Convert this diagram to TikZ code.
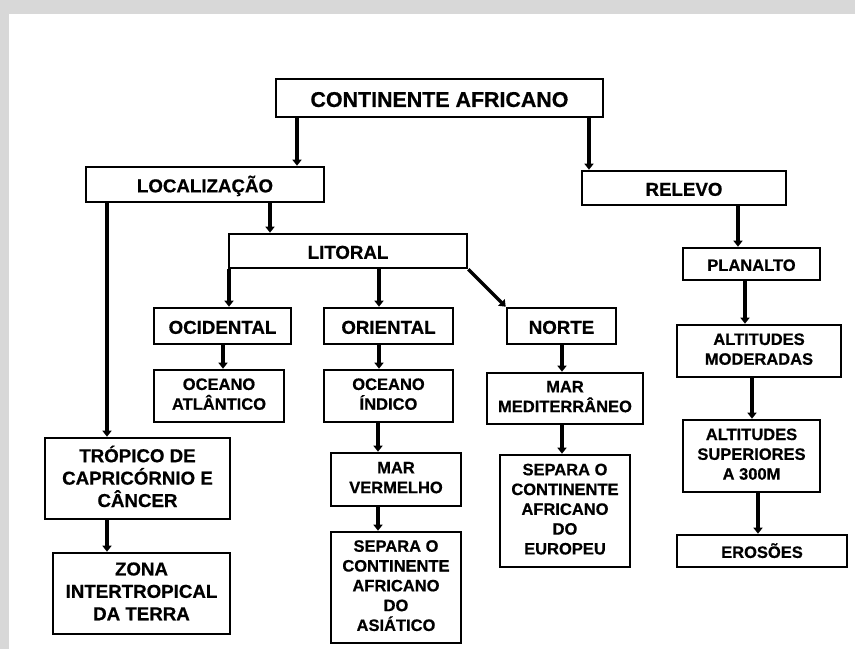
\documentclass[tikz,border=0pt]{standalone}
\usepackage{fontspec}
\setmainfont{Liberation Sans}[BoldFeatures={FakeBold=0.6}]
\usetikzlibrary{arrows.meta}
\definecolor{bgray}{RGB}{216,216,216}
\newcommand\vstrut{\rule[-0.234em]{0pt}{1.304em}}
\begin{document}
\begin{tikzpicture}[x=1pt,y=-1pt,
  box/.style={draw, line width=2.6pt, inner sep=0pt, align=center,
    execute at begin node=\vstrut, execute at end node=\vstrut},
  big/.style={box, font=\fontsize{21.4}{25.7}\selectfont\bfseries},
  mid/.style={box, font=\fontsize{18.7}{22.4}\selectfont\bfseries},
  sml/.style={box, font=\fontsize{16.5}{19.8}\selectfont\bfseries},
  wh/.style 2 args={minimum width=#1pt, minimum height=#2pt},
  arr/.style={line width=3.2pt, -{Triangle[length=6pt,width=9pt]}}]
\useasboundingbox (0,0) rectangle (855,649);
\fill[bgray] (0,0) rectangle (855,649);
\fill[white] (9,14) rectangle (855,649);

\node[big, wh={327}{38}] (cont) at (439.5,98) {CONTINENTE AFRICANO};
\node[mid, wh={238}{35}] (loc) at (205,184.5) {LOCALIZAÇÃO};
\node[mid, wh={204}{34}] (rel) at (684,188) {RELEVO};
\node[mid, wh={238}{34}] (lit) at (348,251) {LITORAL};
\node[mid, wh={137}{36}] (ocid) at (222.5,326) {OCIDENTAL};
\node[mid, wh={129}{36}] (orie) at (388.5,326) {ORIENTAL};
\node[mid, wh={109}{36}] (norte) at (561.5,326) {NORTE};
\node[sml, wh={130}{52}] (atl) at (219,396) {OCEANO\\ATLÂNTICO};
\node[sml, wh={129}{52}] (ind) at (388.5,396) {OCEANO\\ÍNDICO};
\node[sml, wh={130}{53}] (marv) at (396,479.5) {MAR\\VERMELHO};
\node[sml, wh={130}{111}] (sepa) at (396,587.5) {SEPARA O\\CONTINENTE\\AFRICANO\\DO\\ASIÁTICO};
\node[mid, wh={185}{81}] (trop) at (137.5,478.5) {TRÓPICO DE\\CAPRICÓRNIO E\\CÂNCER};
\node[mid, wh={177}{81}] (zona) at (141.5,593.5) {ZONA\\INTERTROPICAL\\DA TERRA};
\node[sml, wh={156}{51}] (med) at (565,398.5) {MAR\\MEDITERRÂNEO};
\node[sml, wh={130}{112}] (sepe) at (565,511) {SEPARA O\\CONTINENTE\\AFRICANO\\DO\\EUROPEU};
\node[sml, wh={137}{32}] (plan) at (751.5,264) {PLANALTO};
\node[sml, wh={164}{52}] (altm) at (759,351) {ALTITUDES\\MODERADAS};
\node[sml, wh={137}{72}] (alts) at (751.5,456) {ALTITUDES\\SUPERIORES\\A 300M};
\node[sml, wh={170}{32}] (eros) at (762,551) {EROSÕES};

\draw[arr] (297,0 |- cont.south) -- (297,0 |- loc.north);
\draw[arr] (589,0 |- cont.south) -- (589,0 |- rel.north);
\draw[arr] (270,0 |- loc.south) -- (270,0 |- lit.north);
\draw[arr] (107,0 |- loc.south) -- (107,0 |- trop.north);
\draw[arr] (229,0 |- lit.south) -- (229,0 |- ocid.north);
\draw[arr] (379,0 |- lit.south) -- (379,0 |- orie.north);
\draw[arr] (lit.south east) -- (norte.north west);
\draw[arr] (223,0 |- ocid.south) -- (223,0 |- atl.north);
\draw[arr] (379,0 |- orie.south) -- (379,0 |- ind.north);
\draw[arr] (378,0 |- ind.south) -- (378,0 |- marv.north);
\draw[arr] (378,0 |- marv.south) -- (378,0 |- sepa.north);
\draw[arr] (107,0 |- trop.south) -- (107,0 |- zona.north);
\draw[arr] (562,0 |- norte.south) -- (562,0 |- med.north);
\draw[arr] (562,0 |- med.south) -- (562,0 |- sepe.north);
\draw[arr] (738,0 |- rel.south) -- (738,0 |- plan.north);
\draw[arr] (745,0 |- plan.south) -- (745,0 |- altm.north);
\draw[arr] (752,0 |- altm.south) -- (752,0 |- alts.north);
\draw[arr] (758,0 |- alts.south) -- (758,0 |- eros.north);
\end{tikzpicture}
\end{document}
